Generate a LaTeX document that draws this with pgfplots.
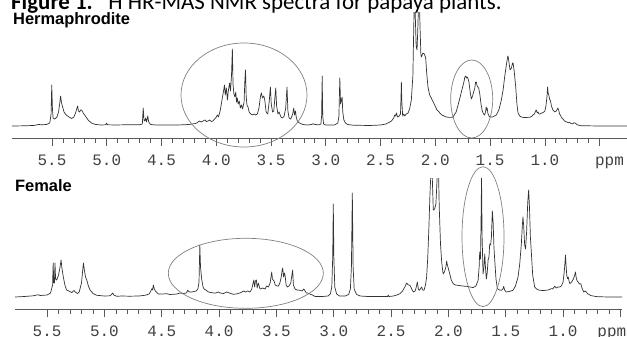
\documentclass[border=0pt]{standalone}
\usepackage{fontspec}
\setmainfont{Carlito}
\newfontfamily\lsans{Liberation Sans}
\newfontfamily\lmono{Liberation Mono}
\usepackage{pgfplots}
\pgfplotsset{compat=1.18}
\begin{document}
\begin{tikzpicture}[x=1bp,y=1bp]
\clip (0,0) rectangle (627,336);
\pgfplotsset{
  nmr/.style={
    scale only axis,
    x dir=reverse,
    axis x line*=bottom,
    axis y line=none,
    xtick={0.5,1,1.5,2,2.5,3,3.5,4,4.5,5,5.5},
    xticklabels={{},1.0,1.5,2.0,2.5,3.0,3.5,4.0,4.5,5.0,5.5},
    minor x tick num=4,
    tick align=outside,
    major tick length=8bp,
    minor tick length=5bp,
    every tick/.style={black!65, line width=0.7bp},
    x axis line style={black!65, line width=0.8bp},
    xticklabel style={font=\lmono\fontsize{16}{16}\selectfont, text=black!75, anchor=base, yshift=-19bp, inner sep=0pt},
    ymin=-12,
    clip mode=individual,
  },
  spec/.style={black!80, line width=0.7bp, line join=round, no marks},
}
% ---------- Top: Hermaphrodite ----------
\begin{axis}[nmr, at={(12bp,198bp)}, anchor=south west, width=615bp, height=125bp,
  xmin=0.25, xmax=5.865, ymax=113]
\addplot[spec] coordinates {
(5.865,0) (5.75,0.2) (5.66,0.6) (5.62,1.6) (5.60,1.2) (5.55,1.5) (5.52,3) (5.508,12) (5.502,41) (5.496,18) (5.49,8) (5.475,7) (5.455,9) (5.44,14) (5.43,22) (5.421,30) (5.414,24) (5.405,20) (5.39,14) (5.37,11) (5.345,9) (5.32,7.5) (5.30,9) (5.285,13) (5.274,17) (5.266,20) (5.258,15) (5.248,14) (5.238,16) (5.229,16) (5.215,13) (5.195,10) (5.17,6) (5.14,3) (5.10,1.5) (5.05,1) (5.01,1.2) (5.002,3) (4.994,1.2) (4.92,1) (4.80,1.3) (4.70,1.3) (4.675,2) (4.667,18) (4.66,6) (4.652,5) (4.645,8) (4.637,4) (4.625,10) (4.617,4) (4.60,1.5) (4.55,1) (4.45,1) (4.35,1) (4.25,1.5) (4.19,2.5) (4.17,3.5) (4.155,5) (4.14,4) (4.12,5) (4.105,6) (4.09,4.5) (4.075,5) (4.06,6) (4.045,4.5) (4.03,5) (4.02,6.5) (4.005,8) (3.99,11) (3.98,9) (3.965,15) (3.955,21) (3.945,28) (3.935,34) (3.925,41) (3.918,31) (3.908,38) (3.898,26) (3.89,35) (3.878,43) (3.87,35) (3.861,50) (3.853,77) (3.847,42) (3.839,32) (3.83,29) (3.822,34) (3.815,24) (3.808,28) (3.80,22) (3.79,25) (3.78,18) (3.77,21) (3.76,17) (3.746,24) (3.739,45) (3.733,56) (3.727,30) (3.72,21) (3.71,19) (3.70,14) (3.685,12) (3.67,11) (3.655,12) (3.64,11) (3.625,12) (3.61,18) (3.596,30) (3.588,33) (3.578,28) (3.566,30) (3.557,26) (3.545,14) (3.53,12) (3.516,25) (3.506,39) (3.498,22) (3.486,14) (3.475,15) (3.465,28) (3.457,38) (3.449,20) (3.437,12) (3.426,14) (3.41,9) (3.395,8) (3.38,10) (3.366,18) (3.354,39) (3.346,15) (3.335,8) (3.32,7) (3.302,12) (3.293,18) (3.285,11) (3.277,15) (3.27,9) (3.26,5) (3.24,3) (3.21,1.5) (3.17,1) (3.13,1.5) (3.116,2.2) (3.10,1.5) (3.06,1.2) (3.045,2) (3.038,10) (3.033,50) (3.028,10) (3.02,2) (3.00,1) (2.92,1) (2.89,3) (2.88,10) (2.872,48) (2.865,22) (2.857,26) (2.851,29) (2.845,14) (2.835,6) (2.82,3) (2.80,1.5) (2.75,0.8) (2.60,0.5) (2.50,1) (2.45,2) (2.40,5) (2.38,8) (2.37,11) (2.362,10) (2.355,13) (2.345,9) (2.33,10) (2.318,12) (2.313,30) (2.31,44) (2.306,25) (2.298,10) (2.288,12) (2.279,10) (2.265,12) (2.249,13) (2.235,17) (2.219,26) (2.205,50) (2.195,110) (2.189,140) (2.183,110) (2.175,80) (2.167,76) (2.159,100) (2.149,140) (2.14,100) (2.132,72) (2.128,69) (2.12,71) (2.113,73) (2.10,72) (2.088,68) (2.078,52) (2.067,39) (2.052,31) (2.037,28) (2.02,24) (2.006,21) (1.985,16) (1.965,14) (1.96,13) (1.94,11) (1.92,10) (1.90,9) (1.87,8.6) (1.84,8.7) (1.81,14) (1.78,26) (1.76,35) (1.741,43) (1.73,49) (1.722,50) (1.717,48) (1.71,49) (1.7,47) (1.693,44) (1.682,34) (1.671,27) (1.66,30) (1.648,35) (1.641,37) (1.632,44) (1.626,44) (1.618,40) (1.605,38) (1.595,33) (1.583,22) (1.571,15) (1.56,12) (1.55,11) (1.54,15) (1.536,19) (1.532,16) (1.527,18) (1.519,12) (1.504,9) (1.48,9) (1.46,10) (1.443,11) (1.42,16) (1.397,26) (1.38,37) (1.367,49) (1.35,62) (1.34,69) (1.336,70) (1.328,64) (1.318,56) (1.305,58) (1.295,63) (1.29,63) (1.28,55) (1.266,39) (1.255,22) (1.245,13) (1.23,10) (1.215,9) (1.19,8.5) (1.16,8.6) (1.139,8.7) (1.12,9.5) (1.109,11) (1.095,12) (1.085,15) (1.078,16) (1.07,13) (1.062,14) (1.054,12) (1.045,12) (1.03,13) (1.017,13.3) (1.0,15) (0.99,20) (0.98,30) (0.975,39) (0.97,33) (0.962,30) (0.955,26) (0.95,26) (0.94,20) (0.926,16) (0.91,14) (0.895,15) (0.882,18) (0.874,16) (0.866,12) (0.859,11) (0.845,8) (0.835,7) (0.82,5) (0.80,4) (0.785,3.3) (0.775,3.5) (0.76,2.5) (0.745,2.2) (0.735,3.3) (0.725,3) (0.70,1) (0.67,0.3) (0.50,0) (0.25,0)
};
\node[font=\lmono\fontsize{16}{16}\selectfont, text=black!75, anchor=base, inner sep=0pt] at (axis cs:0.41,-12) [yshift=-27bp] {ppm};
\end{axis}
% ---------- Bottom: Female ----------
\begin{axis}[nmr, at={(15bp,27bp)}, anchor=south west, width=607bp, height=131bp,
  xmin=0.486, xmax=5.78, ymax=119]
\addplot[spec] coordinates {
(5.78,0) (5.70,0.5) (5.62,1.2) (5.59,2) (5.576,2.2) (5.56,1.5) (5.50,2) (5.47,4) (5.452,12) (5.447,34) (5.442,14) (5.436,14) (5.431,34) (5.426,18) (5.416,17) (5.40,22) (5.39,28) (5.378,37) (5.372,30) (5.36,21) (5.345,12) (5.33,7) (5.31,6) (5.285,4.5) (5.27,6) (5.265,6.5) (5.255,5) (5.235,3.5) (5.22,5) (5.20,14) (5.19,26) (5.183,34) (5.176,28) (5.165,20) (5.154,17) (5.14,11) (5.125,7) (5.10,3.5) (5.067,1.7) (5.00,1) (4.95,1.2) (4.935,3) (4.927,4) (4.918,2) (4.893,0.7) (4.85,1) (4.78,0.8) (4.70,1) (4.646,1.7) (4.61,3) (4.595,6) (4.587,8.3) (4.58,7) (4.573,12) (4.565,8) (4.555,6) (4.53,3) (4.50,3) (4.457,3.3) (4.43,2.5) (4.40,2.7) (4.37,3) (4.34,4) (4.31,3.5) (4.285,4) (4.274,6.7) (4.26,5) (4.239,5) (4.20,6) (4.185,8) (4.175,15) (4.168,52) (4.162,30) (4.152,18) (4.14,10) (4.131,8) (4.115,7) (4.093,5) (4.07,4.5) (4.05,4) (4.03,4) (4.006,5) (3.99,4) (3.96,3.5) (3.934,5) (3.91,4) (3.876,2.7) (3.85,3) (3.82,4) (3.80,5) (3.788,6) (3.77,5) (3.75,6) (3.73,5) (3.715,8) (3.705,13) (3.697,17) (3.69,10) (3.683,16) (3.675,17) (3.668,9) (3.658,14) (3.643,8) (3.62,9) (3.60,8) (3.585,11) (3.57,10) (3.555,14) (3.545,22) (3.541,25) (3.535,18) (3.521,16) (3.51,12) (3.495,11) (3.483,11) (3.47,14) (3.458,20) (3.45,27) (3.445,29) (3.438,20) (3.43,24) (3.425,22) (3.415,12) (3.405,10) (3.39,11) (3.375,14) (3.365,22) (3.358,27) (3.352,12) (3.338,8) (3.32,7) (3.294,6.7) (3.275,6) (3.262,8) (3.255,7) (3.24,4) (3.225,4) (3.21,3) (3.185,2) (3.163,0.5) (3.10,0.5) (3.05,1) (3.03,3) (3.017,10) (3.009,40) (3.004,93) (2.999,40) (2.991,10) (2.975,3) (2.95,1) (2.90,1) (2.87,2.5) (2.855,8) (2.846,30) (2.838,104) (2.831,30) (2.822,8) (2.80,2.5) (2.77,1) (2.70,0.5) (2.60,0.5) (2.53,0.5) (2.525,2) (2.518,0.5) (2.48,1) (2.45,2) (2.422,3.3) (2.40,6) (2.38,10) (2.364,14) (2.35,12) (2.335,11.7) (2.32,8) (2.306,5) (2.29,6) (2.28,10) (2.271,15) (2.262,8) (2.254,6.7) (2.245,8) (2.234,10) (2.224,7) (2.213,6.7) (2.20,12) (2.19,20) (2.18,40) (2.17,70) (2.161,103) (2.146,140) (2.138,110) (2.132,87) (2.12,88) (2.109,93) (2.098,120) (2.089,140) (2.08,90) (2.069,53) (2.058,34) (2.046,23) (2.035,25) (2.022,30) (2.015,36) (2.011,33) (2.004,30) (1.995,26) (1.988,23) (1.975,17) (1.959,13.4) (1.94,12) (1.916,11.7) (1.88,11) (1.843,10.7) (1.81,10) (1.785,9.4) (1.76,11) (1.741,16.7) (1.732,30) (1.727,45) (1.72,38) (1.715,80) (1.711,119) (1.706,60) (1.698,23) (1.69,30) (1.683,43) (1.676,28) (1.669,18) (1.661,25) (1.654,37) (1.646,40) (1.64,53) (1.632,52) (1.625,60) (1.617,86) (1.61,75) (1.603,50) (1.596,37) (1.585,18) (1.573,8.4) (1.555,7) (1.538,6.7) (1.525,8) (1.518,10.7) (1.51,7) (1.495,5) (1.47,5.5) (1.437,6.7) (1.415,11) (1.393,20) (1.378,33) (1.364,53) (1.355,72) (1.35,80) (1.344,72) (1.335,52) (1.327,48) (1.318,65) (1.308,95) (1.3,107) (1.293,90) (1.285,60) (1.277,45) (1.265,22) (1.248,10) (1.225,7.5) (1.204,6.7) (1.17,6.5) (1.13,7) (1.11,8) (1.102,8.4) (1.09,8) (1.073,10.7) (1.06,9) (1.045,10) (1.029,10) (1.015,11) (1.0,15) (0.99,25) (0.983,35) (0.979,42) (0.974,32) (0.968,22) (0.962,18.4) (0.955,20) (0.948,16) (0.941,13.4) (0.925,15) (0.91,18) (0.898,22) (0.892,25) (0.885,19) (0.876,16) (0.869,15) (0.857,13) (0.846,13.4) (0.835,9) (0.82,5) (0.808,6) (0.797,5) (0.785,3) (0.774,2.7) (0.76,1.5) (0.724,0.7) (0.70,0.3) (0.60,0) (0.486,0)
};
\node[font=\lmono\fontsize{16}{16}\selectfont, text=black!75, anchor=base, inner sep=0pt] at (axis cs:0.575,-12) [yshift=-27bp] {ppm};
\end{axis}
% ---------- annotations ----------
\draw[black!50, line width=0.7bp] (244,241) ellipse [x radius=63, y radius=52];
\draw[black!50, line width=0.7bp] (471.7,237) ellipse [x radius=21, y radius=39];
\draw[black!50, line width=0.7bp] (245.8,62.7) ellipse [x radius=77.5, y radius=35];
\draw[black!50, line width=0.7bp] (483,99.3) ellipse [x radius=21, y radius=70];
\node[anchor=base west, inner sep=0pt, font=\fontsize{23}{26}\selectfont] at (11,326.7)
  {\textbf{Figure 1.} \textsuperscript{1}H HR-MAS NMR spectra for papaya plants.};
\node[anchor=base west, inner sep=0pt, font=\lsans\bfseries\fontsize{16.5}{18}\selectfont] at (13,312) {Hermaphrodite};
\node[anchor=base west, inner sep=0pt, font=\lsans\bfseries\fontsize{16.5}{18}\selectfont] at (15,144.5) {Female};
\end{tikzpicture}
\end{document}
